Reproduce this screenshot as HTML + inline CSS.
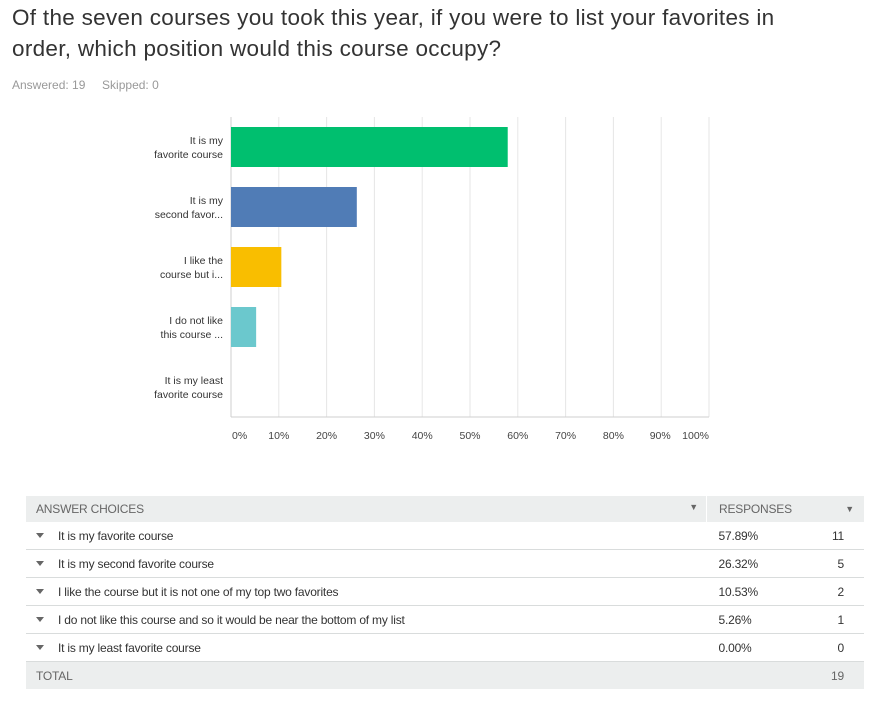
<!DOCTYPE html>
<html><head><meta charset="utf-8"><style>
body{margin:0;width:895px;height:704px;background:#fff;font-family:"Liberation Sans",sans-serif;color:#333;position:relative;overflow:hidden}
.title{position:absolute;left:12px;top:2px;font-size:22.5px;line-height:31px;color:#333;width:780px;letter-spacing:0.3px}
.meta{position:absolute;left:12px;top:78px;font-size:12px;color:#999}
table{position:absolute;left:26px;top:496px;width:838px;border-collapse:collapse;font-size:12px;color:#333}
td{height:27px;border-bottom:1px solid #d9dcdc;padding:0;letter-spacing:-0.2px}
tr.hd td{background:#eceeee;color:#666;height:26px;border-bottom:none}
tr.tot td{background:#eceeee;color:#666;border-bottom:none}
.arr{display:inline-block;width:0;height:0;border-left:4px solid transparent;border-right:4px solid transparent;border-top:5px solid #666;margin:0 14px 1px 10px;vertical-align:middle}
</style></head><body>
<div class="title">Of the seven courses you took this year, if you were to list your favorites in order, which position would this course occupy?</div>
<div class="meta">Answered: 19&nbsp;&nbsp;&nbsp;&nbsp;&nbsp;Skipped: 0</div>
<svg id="chart" width="895" height="460" style="position:absolute;left:0;top:0"></svg>
<table>
<tr class="hd"><td style="padding-left:10px;width:670px">ANSWER CHOICES<span style="float:right;font-size:9px;margin-right:8px">▼</span></td><td style="border-left:1px solid #fff;padding-left:12px">RESPONSES</td><td style="text-align:right;padding-right:10px;font-size:9px">▼</td></tr>
<tr><td><span class="arr"></span>It is my favorite course</td><td style="padding-left:12px">57.89%</td><td style="text-align:right;padding-right:20px">11</td></tr>
<tr><td><span class="arr"></span>It is my second favorite course</td><td style="padding-left:12px">26.32%</td><td style="text-align:right;padding-right:20px">5</td></tr>
<tr><td><span class="arr"></span>I like the course but it is not one of my top two favorites</td><td style="padding-left:12px">10.53%</td><td style="text-align:right;padding-right:20px">2</td></tr>
<tr><td><span class="arr"></span>I do not like this course and so it would be near the bottom of my list</td><td style="padding-left:12px">5.26%</td><td style="text-align:right;padding-right:20px">1</td></tr>
<tr><td><span class="arr"></span>It is my least favorite course</td><td style="padding-left:12px">0.00%</td><td style="text-align:right;padding-right:20px">0</td></tr>
<tr class="tot"><td style="padding-left:10px">TOTAL</td><td></td><td style="text-align:right;padding-right:20px">19</td></tr>
</table>
<script>
const labels1=["It is my","It is my","I like the","I do not like","It is my least"];
const labels2=["favorite course","second favor...","course but i...","this course ...","favorite course"];
const values=[57.89,26.32,10.53,5.26,0];
const colors=["#00bf6f","#507cb6","#f9be00","#6bc8cd","#ff8b4f"];
const ticks=[0,10,20,30,40,50,60,70,80,90,100];
const NS="http://www.w3.org/2000/svg";
const svg=document.getElementById('chart');
const x0=231,x1=709,yTop=117,yBot=417;
const xs=v=>x0+(x1-x0)*v/100;
const band=(yBot-yTop)/values.length;
function mk(t,a){const e=document.createElementNS(NS,t);for(const k in a)e.setAttribute(k,a[k]);svg.appendChild(e);return e;}
ticks.forEach((t,i)=>{
 const g=mk('line',{x1:xs(t),x2:xs(t),y1:yTop,y2:yBot,stroke:'#e6e6e6','stroke-width':1});
 
 
 let anchor='middle',x=xs(t);
 if(i==0){anchor='start';x=xs(t)+1;}
 else if(i==ticks.length-1){anchor='end';x=xs(t);}
 else if(i==ticks.length-2){x=xs(t)-1;}
 const tx=mk('text',{x:x,y:439,'font-size':10.5,fill:'#444','text-anchor':anchor,'font-family':'Liberation Sans'});
 tx.textContent=t+'%';
 
 
});
const ax=mk('line',{x1:x0,x2:x1,y1:yBot,y2:yBot,stroke:'#cfcfcf'});


const ay=mk('line',{x1:x0,x2:x0,y1:yTop,y2:yBot,stroke:'#cfcfcf'});


values.forEach((v,i)=>{
 const yc=yTop+band*i+band/2;
 const r=mk('rect',{x:x0,y:yc-20,width:xs(v)-x0,height:40,fill:colors[i]});
 
 
 const t=mk('text',{x:223,y:yc-3,'font-size':10.5,fill:'#333','text-anchor':'end','font-family':'Liberation Sans'});
 t.textContent=labels1[i];
 
 
 const t2=mk('text',{x:223,y:yc+11,'font-size':10.5,fill:'#333','text-anchor':'end','font-family':'Liberation Sans'});
 t2.textContent=labels2[i];
 
 
});
</script>
</body></html>
